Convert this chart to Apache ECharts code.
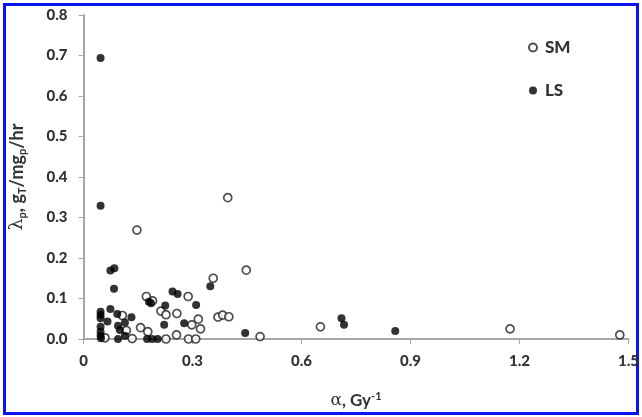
<!DOCTYPE html>
<html>
<head>
<meta charset="utf-8">
<script src="https://cdn.jsdelivr.net/npm/echarts@6/dist/echarts.min.js"></script>
<style>html,body{margin:0;padding:0;background:#fff;}#c{width:642px;height:417px;}</style>
</head>
<body>
<div id="c"></div>
<script>
// SM series (hollow circles): [alpha, lambda]
var smData = [
  [0.397,0.349],[0.147,0.269],[0.448,0.170],[0.357,0.150],[0.173,0.105],[0.190,0.094],
  [0.288,0.105],[0.213,0.069],[0.227,0.060],[0.257,0.063],[0.107,0.058],[0.316,0.049],
  [0.298,0.035],[0.322,0.025],[0.370,0.054],[0.383,0.059],[0.400,0.055],[0.157,0.028],
  [0.177,0.018],[0.118,0.021],[0.134,0.001],[0.059,0.003],[0.256,0.010],[0.227,0.000],
  [0.289,0.000],[0.309,0.000],[0.486,0.006],[0.652,0.030],[1.174,0.025],[1.476,0.010]
];
// LS series (filled circles)
var lsData = [
  [0.047,0.694],[0.047,0.329],[0.074,0.169],[0.085,0.175],[0.084,0.124],[0.074,0.074],
  [0.047,0.067],[0.047,0.059],[0.047,0.051],[0.066,0.043],[0.047,0.030],[0.047,0.018],
  [0.047,0.008],[0.048,0.002],[0.093,0.062],[0.095,0.033],[0.100,0.022],[0.114,0.041],
  [0.132,0.054],[0.095,0.000],[0.114,0.008],[0.180,0.092],[0.186,0.088],[0.225,0.083],
  [0.222,0.035],[0.245,0.117],[0.259,0.111],[0.277,0.039],[0.310,0.084],[0.349,0.130],
  [0.445,0.015],[0.175,0.000],[0.189,0.000],[0.204,0.000],[0.710,0.051],[0.717,0.035],
  [0.858,0.020]
];
var seriesNames = ['SM','LS'];
var xTicks = {min:0, max:1.5, interval:0.3};
var yTicks = {min:0, max:0.8, interval:0.1};

var FONT = 'Lato';
var axisColor = '#a6a6a6';
var textColor = '#333333';

var chart = echarts.init(document.getElementById('c'), null, {renderer:'canvas'});
chart.setOption({
  animation:false,
  backgroundColor:'#fff',
  graphic:[{type:'rect', shape:{x:4.5,y:4.5,width:633,height:409}, style:{fill:'none',stroke:'#0a14f0',lineWidth:3}, silent:true}],
  grid:{left:80,right:11,top:15,bottom:78,containLabel:false},
  legend:{
    orient:'vertical', left:523, top:34, itemGap:26, itemWidth:8, itemHeight:8,
    textStyle:{fontFamily:FONT,fontWeight:900,fontSize:17,color:textColor,padding:[0,0,0,3]},
    data:seriesNames
  },
  xAxis:{
    type:'value', min:xTicks.min, max:xTicks.max, interval:xTicks.interval,
    axisLine:{show:true,onZero:false,lineStyle:{color:axisColor,width:2}},
    axisTick:{show:true,inside:false,length:5,lineStyle:{color:axisColor,width:1}},
    splitLine:{show:false},
    axisLabel:{margin:15,fontFamily:FONT,fontWeight:900,fontSize:15,color:textColor},
    name:'{g|α}{n|, Gy}{sup|-1}', nameLocation:'middle', nameGap:52,
    nameTextStyle:{rich:{
      g:{fontFamily:'DejaVu Serif',fontSize:17,color:textColor},
      n:{fontFamily:FONT,fontWeight:'bold',fontSize:17,color:textColor},
      sup:{fontFamily:FONT,fontWeight:'bold',fontSize:11,color:textColor,padding:[0,0,8,0]}
    }}
  },
  yAxis:{
    type:'value', min:yTicks.min, max:yTicks.max, interval:yTicks.interval,
    axisLine:{show:true,onZero:false,lineStyle:{color:axisColor,width:2}},
    axisTick:{show:true,inside:false,length:5,lineStyle:{color:axisColor,width:1}},
    splitLine:{show:false},
    axisLabel:{margin:16,fontFamily:FONT,fontWeight:900,fontSize:15,color:textColor,
      formatter:function(v){return v.toFixed(1);}},
    name:'{g|λ}{sub|p}{n|, g}{sub|T}{n|/mg}{sub|p}{n|/hr}', nameLocation:'middle', nameGap:56, nameRotate:90,
    nameTextStyle:{rich:{
      g:{fontFamily:'DejaVu Serif',fontSize:19,color:textColor},
      n:{fontFamily:FONT,fontWeight:'bold',fontSize:18,color:textColor},
      sub:{fontFamily:FONT,fontWeight:'bold',fontSize:11,color:textColor,padding:[9,0,0,0]}
    }}
  },
  series:[
    {name:seriesNames[0], type:'scatter', data:smData, symbol:'circle', symbolSize:8, z:3,
     itemStyle:{color:'#fff',borderColor:'#222',borderWidth:1.7}},
    {name:seriesNames[1], type:'scatter', data:lsData, symbol:'circle', symbolSize:8, z:4,
     itemStyle:{color:'#000'}}
  ]
});
</script>
</body>
</html>
